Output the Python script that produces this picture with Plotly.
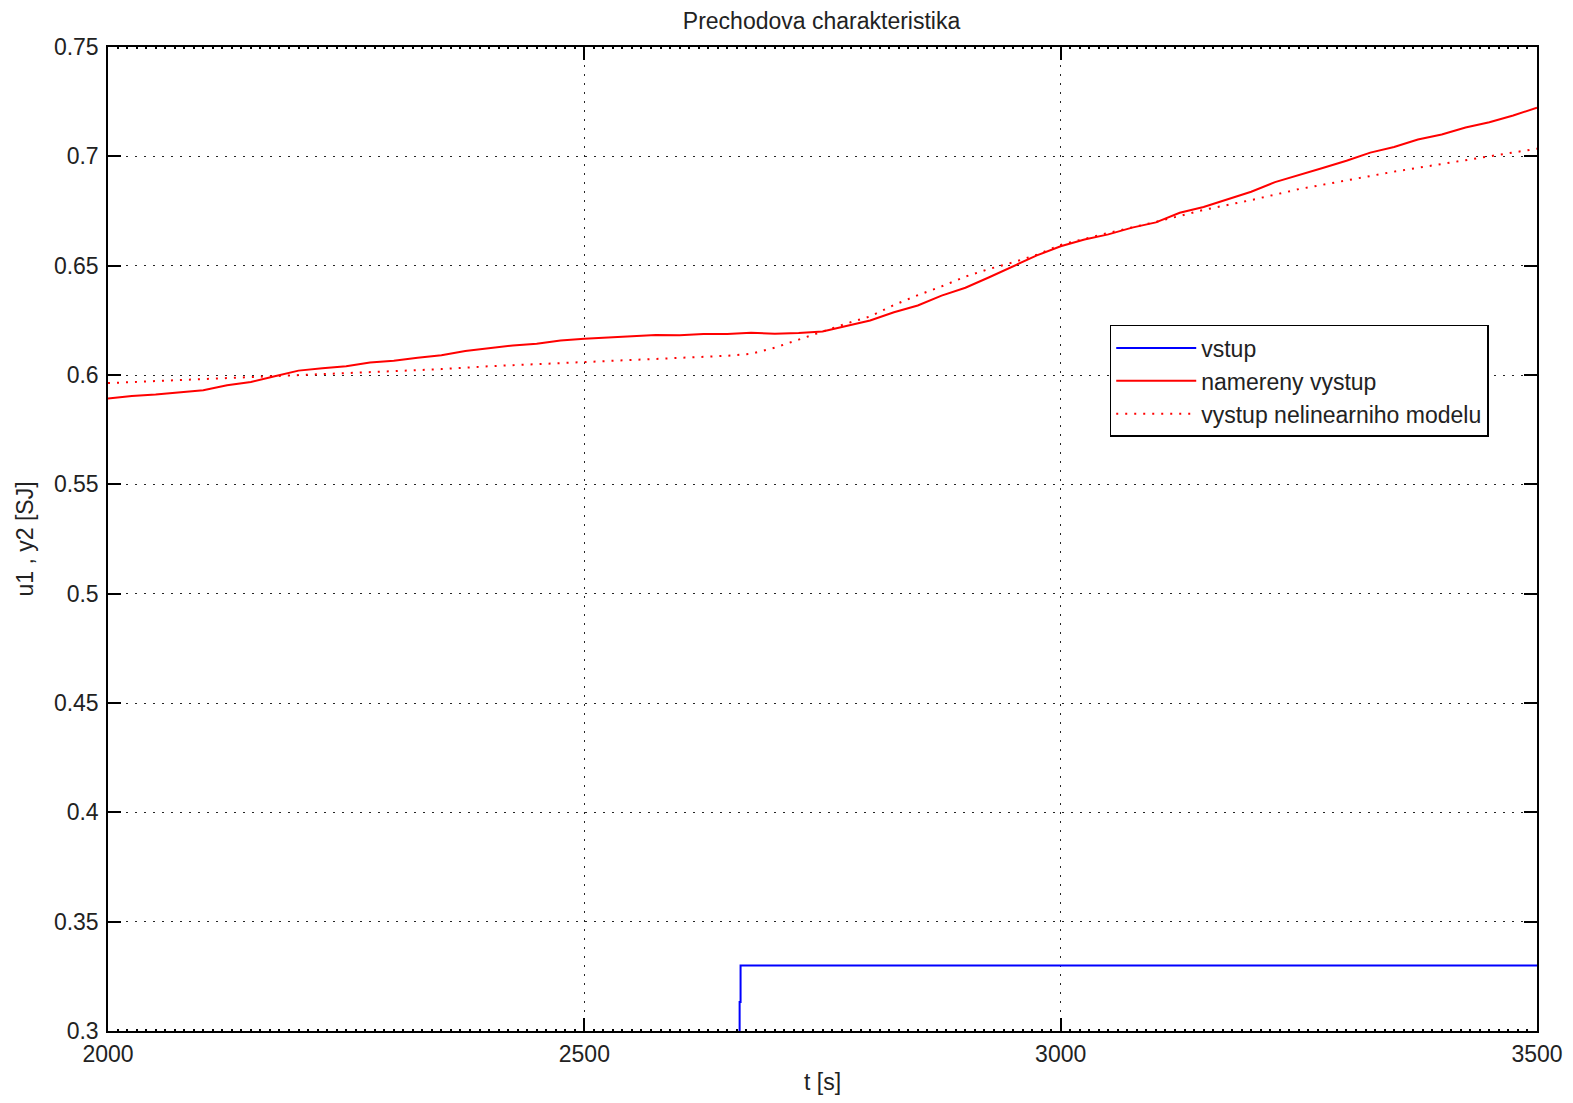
import plotly.graph_objects as go

# ---- data ----
t_input = [2000, 2663, 2663, 2664, 2664, 3500]
u_input = [0.28, 0.28, 0.3133, 0.3133, 0.330, 0.330]

t_meas = [2000, 2025, 2050, 2075, 2100, 2125, 2150, 2175, 2200, 2225, 2250, 2275,
          2300, 2325, 2350, 2375, 2400, 2425, 2450, 2475, 2500, 2525, 2550, 2575,
          2600, 2625, 2650, 2675, 2700, 2725, 2750, 2775, 2800, 2825, 2850, 2875,
          2900, 2925, 2950, 2975, 3000, 3025, 3050, 3075, 3100, 3125, 3150, 3175,
          3200, 3225, 3250, 3275, 3300, 3325, 3350, 3375, 3400, 3425, 3450, 3475, 3500]
y_meas = [0.5893, 0.5904, 0.5911, 0.5922, 0.5930, 0.5953, 0.5968, 0.5994, 0.6020, 0.6031,
          0.6040, 0.6057, 0.6065, 0.6079, 0.6090, 0.6110, 0.6122, 0.6135, 0.6143, 0.6158,
          0.6166, 0.6172, 0.6175, 0.6183, 0.6182, 0.6188, 0.6187, 0.6193, 0.6189, 0.6192,
          0.6199, 0.6223, 0.6249, 0.6287, 0.6318, 0.6363, 0.6399, 0.6447, 0.6498, 0.6547,
          0.6589, 0.6620, 0.6643, 0.6674, 0.6698, 0.6742, 0.6768, 0.6802, 0.6838, 0.6882,
          0.6913, 0.6947, 0.6980, 0.7017, 0.7043, 0.7077, 0.7100, 0.7132, 0.7156, 0.7187, 0.7222]

t_model = [2000, 2050, 2100, 2150, 2200, 2250, 2300, 2350, 2400, 2450, 2500, 2550, 2600,
           2650, 2675, 2700, 2725, 2750, 2775, 2800, 2825, 2850, 2875, 2900, 2925, 2950,
           2975, 3000, 3050, 3100, 3150, 3200, 3250, 3300, 3350, 3400, 3450, 3500]
y_model = [0.5963, 0.5972, 0.5981, 0.5990, 0.6000, 0.6008, 0.6016, 0.6027, 0.6040, 0.6050,
           0.6060, 0.6068, 0.6077, 0.6088, 0.6097, 0.6125, 0.6162, 0.6200, 0.6235, 0.6268,
           0.6320, 0.6365, 0.6405, 0.6450, 0.6485, 0.6515, 0.6550, 0.6595, 0.6650, 0.6700,
           0.6755, 0.6800, 0.6850, 0.6890, 0.6930, 0.6965, 0.7000, 0.7035]

x_ticks = [2000, 2500, 3000, 3500]
y_ticks = [0.3, 0.35, 0.4, 0.45, 0.5, 0.55, 0.6, 0.65, 0.7, 0.75]
y_tick_text = ["0.3", "0.35", "0.4", "0.45", "0.5", "0.55", "0.6", "0.65", "0.7", "0.75"]

FONT = "Liberation Sans"
FS = 23
TXT = "#222"

fig = go.Figure()
fig.add_trace(go.Scatter(x=t_input, y=u_input, mode="lines", name="vstup",
                         line=dict(color="rgb(0,0,255)", width=2)))
fig.add_trace(go.Scatter(x=t_meas, y=y_meas, mode="lines", name="namereny vystup",
                         line=dict(color="rgb(255,0,0)", width=2)))
fig.add_trace(go.Scatter(x=t_model, y=y_model, mode="lines", name="vystup nelinearniho modelu",
                         line=dict(color="rgb(255,0,0)", width=2, dash="2px,7px")))

axis_common = dict(
    showline=True, linecolor="black", linewidth=1.5, mirror="allticks",
    ticks="inside", ticklen=13, tickwidth=1.5, tickcolor="black",
    showgrid=True, gridcolor="rgba(0,0,0,0.85)", gridwidth=1, griddash="2px,7px",
    zeroline=False, tickfont=dict(family=FONT, size=FS, color=TXT),
)

fig.update_xaxes(**axis_common, range=[2000, 3500], tickvals=x_ticks,
                 ticktext=[str(v) for v in x_ticks], ticklabelstandoff=2,
                 minor=dict(dtick=10, ticks="inside", ticklen=2, tickcolor="black", showgrid=False),
                 title=dict(text="t [s]", font=dict(family=FONT, size=FS, color=TXT), standoff=8))
fig.update_yaxes(**axis_common, range=[0.3, 0.75], tickvals=y_ticks, ticktext=y_tick_text,
                 ticklabelstandoff=3,
                 title=dict(text="u1 , y2 [SJ]", font=dict(family=FONT, size=FS, color=TXT), standoff=14))

fig.update_layout(
    width=1557, height=1087,
    margin=dict(l=100, r=28, t=39, b=64, autoexpand=False),
    paper_bgcolor="white", plot_bgcolor="white",
    title=dict(text="Prechodova charakteristika", x=0.5225, xanchor="center",
               y=0.9885, yanchor="middle",
               font=dict(family=FONT, size=FS, color=TXT)),
    legend=dict(x=0.701, y=0.7175, xanchor="left", yanchor="top",
                bgcolor="white", bordercolor="black", borderwidth=1.5,
                font=dict(family=FONT, size=FS, color=TXT),
                itemwidth=80, tracegroupgap=0),
    showlegend=True,
)

fig.write_html("out.html")
